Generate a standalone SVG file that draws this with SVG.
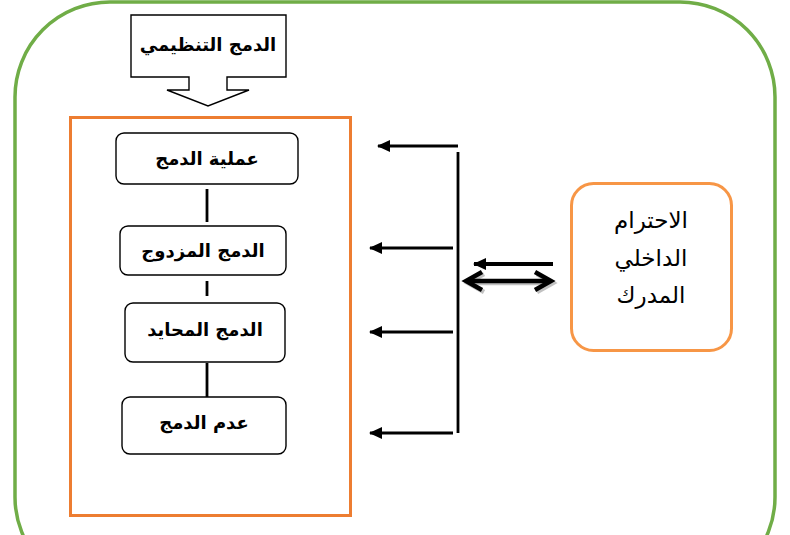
<svg xmlns="http://www.w3.org/2000/svg" width="790" height="535" viewBox="0 0 790 535">
<defs>
<marker id="ah" markerWidth="13" markerHeight="13" refX="12" refY="6.5" orient="auto" markerUnits="userSpaceOnUse">
<path d="M0,0.5 L13,6.5 L0,12.5 Z" fill="#000"/>
</marker>
<marker id="ahb" markerWidth="14" markerHeight="14" refX="12" refY="7" orient="auto" markerUnits="userSpaceOnUse">
<path d="M0,1 L13,7 L0,13 Z" fill="#000"/>
</marker>
<style>
.box{fill:#fff;stroke:#000;stroke-width:1.4}
.lbl{font-family:"DejaVu Sans",sans-serif;font-size:18px;font-weight:bold;fill:#000;text-anchor:middle}
.rl{font-family:"DejaVu Sans",sans-serif;font-size:23px;fill:#000;text-anchor:middle}
.ln{stroke:#000;stroke-width:2.8;fill:none}
.ar{stroke:#000;stroke-width:2.8;fill:none;marker-end:url(#ah)}
</style>
</defs>
<rect width="790" height="535" fill="#fff"/>
<g id="frame">
<rect x="15" y="2" width="760" height="590" rx="95" ry="95" fill="none" stroke="#70AD47" stroke-width="3.5"/>
</g>
<g id="container">
<rect x="70.5" y="117.5" width="280" height="398" fill="none" stroke="#ED7D31" stroke-width="3"/>
</g>
<g id="callout">
<path d="M131,15 H286 V77 H227 V90 H249 L208,106 L167,90 H189 V77 H131 Z" fill="#fff" stroke="#000" stroke-width="1.4"/>
<text class="lbl" x="208" y="51" direction="rtl">الدمج التنظيمي</text>
</g>
<g id="n1">
<rect class="box" x="116" y="133" width="182" height="51" rx="8"/>
<text class="lbl" x="207" y="165" direction="rtl">عملية الدمج</text>
</g>
<g id="n2">
<rect class="box" x="120" y="226" width="166" height="49" rx="8"/>
<text class="lbl" x="203" y="257" direction="rtl">الدمج المزدوج</text>
</g>
<g id="n3">
<rect class="box" x="125" y="303" width="160" height="59" rx="8"/>
<text class="lbl" x="205" y="336" direction="rtl">الدمج المحايد</text>
</g>
<g id="n4">
<rect class="box" x="122" y="397" width="164" height="57" rx="8"/>
<text class="lbl" x="204" y="429" direction="rtl">عدم الدمج</text>
</g>
<g id="n5">
<rect x="571.5" y="183.5" width="160" height="167" rx="22" fill="#fff" stroke="#F79646" stroke-width="3"/>
<text class="rl" x="651" y="228" direction="rtl">الاحترام</text>
<text class="rl" x="651" y="266" direction="rtl">الداخلي</text>
<text class="rl" x="651" y="303" direction="rtl">المدرك</text>
</g>
<g id="connectors">
<line class="ln" x1="207" y1="189" x2="207" y2="222"/>
<line class="ln" x1="207" y1="281" x2="207" y2="296"/>
<line class="ln" x1="207" y1="363" x2="207" y2="397"/>
<line class="ln" x1="458" y1="152" x2="458" y2="433"/>
<line class="ar" x1="458" y1="146" x2="378" y2="146"/>
<line class="ar" x1="453" y1="248" x2="370" y2="248"/>
<line class="ar" x1="453" y1="332" x2="370" y2="332"/>
<line class="ar" x1="453" y1="433" x2="370" y2="433"/>
<line x1="553" y1="264" x2="474" y2="264" stroke="#000" stroke-width="4" marker-end="url(#ahb)"/>
<g transform="translate(2,2)" stroke="#999" stroke-width="4.5" fill="none" opacity="0.6">
<line x1="468" y1="281" x2="549" y2="281"/>
<polyline points="482,272 466,281 482,290"/>
<polyline points="535,272 551,281 535,290"/>
</g>
<g stroke="#000" stroke-width="4.5" fill="none" stroke-linejoin="miter">
<line x1="468" y1="281" x2="549" y2="281"/>
<polyline points="482,272 466,281 482,290"/>
<polyline points="535,272 551,281 535,290"/>
</g>
</g>
</svg>
